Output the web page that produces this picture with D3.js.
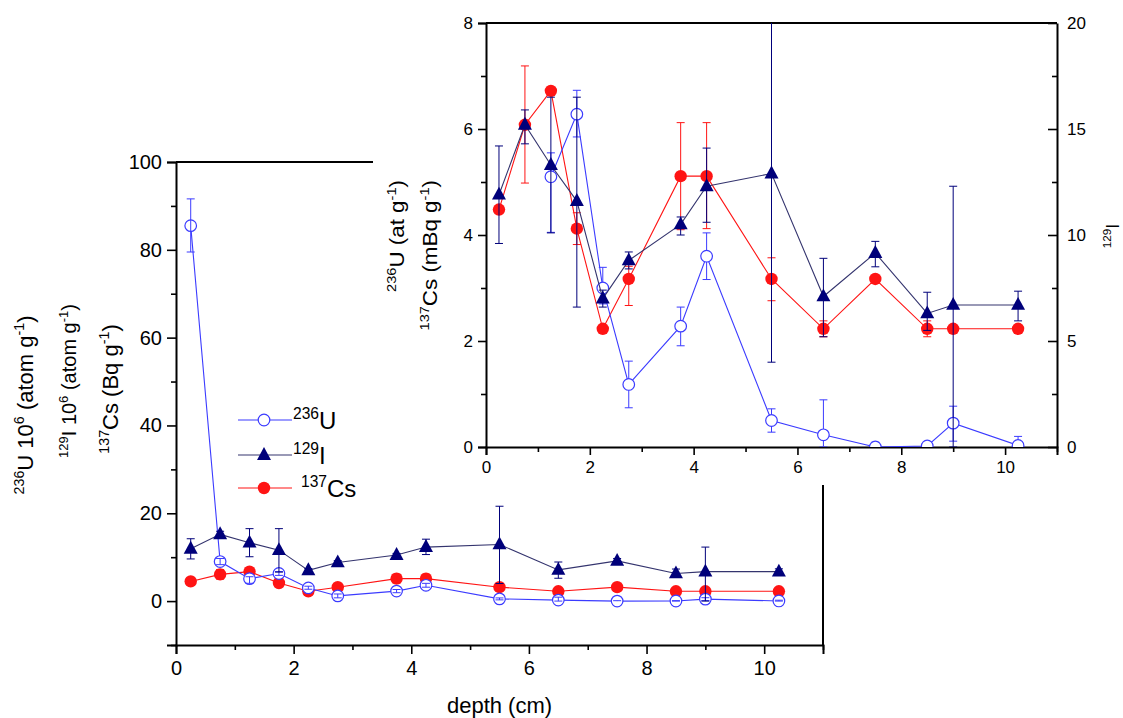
<!DOCTYPE html>
<html><head><meta charset="utf-8">
<script src="https://cdn.jsdelivr.net/npm/d3@7"></script>
<style>
html,body{margin:0;padding:0;background:#fff;}
svg{display:block;font-family:"Liberation Sans",Arial,sans-serif;}
</style></head>
<body>
<svg id="chart" width="1123" height="718"></svg>
<script>
// ---------------- data ----------------
const depth   = [0.25, 0.75, 1.25, 1.75, 2.25, 2.75, 3.75, 4.25, 5.5, 6.5, 7.5, 8.5, 9.0, 10.25];
const u236    = [85.5, 9.0, 5.1, 6.28, 3.0, 1.18, 2.28, 3.6, 0.5, 0.23, 0.0, 0.02, 0.45, 0.03];
const u236Lo  = [79.5, 8.3, 4.05, 5.85, 2.7, 0.74, 1.91, 3.16, 0.28, 0.0, 0.0, 0.0, 0.11, 0.0];
const u236Hi  = [91.6, 9.7, 5.55, 6.73, 3.39, 1.62, 2.64, 4.04, 0.72, 0.89, 0.09, 0.1, 0.77, 0.2];
const i129    = [11.9, 15.2, 13.3, 11.6, 7.0, 8.8, 10.5, 12.3, 12.9, 7.1, 9.15, 6.3, 6.7, 6.7];
const i129Lo  = [9.6, 14.3, 10.1, 6.6, 6.6, 8.4, 10.0, 10.6, 4.0, 5.2, 8.5, 5.5, 0.0, 5.95];
const i129Hi  = [14.2, 15.9, 16.5, 16.5, 7.4, 9.2, 10.85, 14.1, 21.6, 8.9, 9.7, 7.3, 12.3, 7.35];
const cs137   = [4.48, 6.08, 6.72, 4.12, 2.23, 3.17, 5.11, 5.11, 3.17, 2.23, 3.17, 2.23, 2.23, 2.23];
const cs137Lo = [4.48, 4.98, 6.72, 3.82, 2.23, 2.67, 4.1, 4.12, 2.76, 2.08, 3.17, 2.08, 2.23, 2.23];
const cs137Hi = [4.48, 7.19, 6.72, 4.42, 2.23, 3.41, 6.12, 6.12, 3.57, 2.38, 3.17, 2.38, 2.23, 2.23];

const mainXTicks = [0, 2, 4, 6, 8, 10];
const mainXMinor = [1, 3, 5, 7, 9, 11];
const mainYTicks = [0, 20, 40, 60, 80, 100];
const mainYMinor = [-10, 10, 30, 50, 70, 90];
const insetYTicks = [0, 2, 4, 6, 8];
const insetYMinor = [1, 3, 5, 7];
const insetY2Ticks = [0, 5, 10, 15, 20];
const insetY2Minor = [2.5, 7.5, 12.5, 17.5];
const insetUMax = 8; // inset only shows 236U values within its range

// ---------------- styling ----------------
const C_U = "#3b3bff", C_I = "#00007a", C_Iline = "#34346e", C_CS = "#ff1414";

const svg = d3.select("#chart");

const mx = d3.scaleLinear().domain([0, 11]).range([176, 823]);
const my = d3.scaleLinear().domain([-10, 100]).range([645, 162]);
const ix = d3.scaleLinear().domain([0, 11]).range([486, 1057]);
const iy = d3.scaleLinear().domain([0, 8]).range([447, 23]);
const iy2 = d3.scaleLinear().domain([0, 20]).range([447, 23]);

function rich(textSel, parts, fs) {
  let shifted = false;
  parts.forEach(p => {
    const t = textSel.append("tspan").text(p.t);
    if (p.sup) {
      t.attr("font-size", fs * 0.65);
      t.attr("dy", shifted ? 0 : -0.42 * fs);
      shifted = true;
    } else {
      t.attr("font-size", fs);
      t.attr("dy", shifted ? 0.42 * fs : 0);
      shifted = false;
    }
  });
  return textSel;
}

function styleAxis(g, fs) {
  g.select(".domain").attr("stroke", "#000").attr("stroke-width", 2);
  g.selectAll(".tick line").attr("stroke", "#000").attr("stroke-width", 1.6);
  g.selectAll(".tick text").attr("font-size", fs).attr("fill", "#000")
    .attr("font-family", "'Liberation Sans',Arial,sans-serif");
}

function triPath(size) {
  const h = size * 0.92, w = size;
  return `M0,${-h*0.62}L${w/2},${h*0.38}L${-w/2},${h*0.38}Z`;
}

function drawSeries(g, xs, ys, xv, yv, lo, hi, color, lineColor, marker, errOnTop, filterFn) {
  const idx = d3.range(xv.length).filter(filterFn || (() => true));
  const line = d3.line().x(i => xs(xv[i])).y(i => ys(yv[i]));
  const errG = () => {
    const eg = g.append("g");
    idx.forEach(i => {
      if (hi[i] - lo[i] <= 0) return;
      const x = xs(xv[i]);
      eg.append("line").attr("x1", x).attr("x2", x).attr("y1", ys(lo[i])).attr("y2", ys(hi[i]))
        .attr("stroke", color).attr("stroke-width", 1);
      [lo[i], hi[i]].forEach(v => {
        if (v === yv[i]) return;
        eg.append("line").attr("x1", x - 4).attr("x2", x + 4).attr("y1", ys(v)).attr("y2", ys(v))
          .attr("stroke", color).attr("stroke-width", 1);
      });
    });
  };
  if (!errOnTop) errG();
  g.append("path").datum(idx).attr("d", line).attr("fill", "none")
    .attr("stroke", lineColor).attr("stroke-width", 1.1);
  const mg = g.append("g");
  idx.forEach(i => {
    const x = xs(xv[i]), y = ys(yv[i]);
    if (marker === "circleOpen") {
      mg.append("circle").attr("cx", x).attr("cy", y).attr("r", 5.8)
        .attr("fill", "#fff").attr("stroke", color).attr("stroke-width", 1.2);
    } else if (marker === "circle") {
      mg.append("circle").attr("cx", x).attr("cy", y).attr("r", 6.2).attr("fill", color);
    } else {
      mg.append("path").attr("d", triPath(14)).attr("transform", `translate(${x},${y})`).attr("fill", color);
    }
  });
  if (errOnTop) errG();
}

// ================= MAIN PLOT =================
const main = svg.append("g");

main.append("line").attr("x1", mx(11)).attr("x2", mx(11)).attr("y1", my(-10)).attr("y2", 485)
  .attr("stroke", "#000").attr("stroke-width", 2);
main.append("line").attr("x1", mx(0)).attr("x2", 373).attr("y1", my(100)).attr("y2", my(100))
  .attr("stroke", "#000").attr("stroke-width", 2);

const mxAxis = main.append("g").attr("transform", `translate(0,${my(-10)})`)
  .call(d3.axisBottom(mx).tickValues(mainXTicks).tickSize(9).tickPadding(7).tickFormat(d3.format("d")));
styleAxis(mxAxis, 20);
const mxMinor = main.append("g").attr("transform", `translate(0,${my(-10)})`)
  .call(d3.axisBottom(mx).tickValues(mainXMinor).tickSize(5).tickFormat(""));
mxMinor.select(".domain").remove();
mxMinor.selectAll(".tick line").attr("stroke", "#000").attr("stroke-width", 1.6);

const myAxis = main.append("g").attr("transform", `translate(${mx(0)},0)`)
  .call(d3.axisLeft(my).tickValues(mainYTicks).tickSize(9).tickPadding(5).tickFormat(d3.format("d")));
styleAxis(myAxis, 20);
const myMinor = main.append("g").attr("transform", `translate(${mx(0)},0)`)
  .call(d3.axisLeft(my).tickValues(mainYMinor).tickSize(5).tickFormat(""));
myMinor.select(".domain").remove();
myMinor.selectAll(".tick line").attr("stroke", "#000").attr("stroke-width", 1.6);

drawSeries(main, mx, my, depth, cs137, cs137Lo, cs137Hi, C_CS, C_CS, "circle", true);
drawSeries(main, mx, my, depth, u236, u236Lo, u236Hi, C_U, C_U, "circleOpen", true);
drawSeries(main, mx, my, depth, i129, i129Lo, i129Hi, C_I, C_Iline, "tri", true);

const mlabels = [
  {x: 33, y: 405, fs: 22, parts: [{t:"236",sup:true},{t:"U 10"},{t:"6",sup:true},{t:" (atom g"},{t:"-1",sup:true},{t:")"}]},
  {x: 76, y: 381, fs: 20, parts: [{t:"129",sup:true},{t:"I 10"},{t:"6",sup:true},{t:" (atom g"},{t:"-1",sup:true},{t:")"}]},
  {x: 118, y: 389, fs: 22, parts: [{t:"137",sup:true},{t:"Cs (Bq g"},{t:"-1",sup:true},{t:")"}]}
];
mlabels.forEach(l => {
  const t = main.append("text").attr("transform", `translate(${l.x},${l.y}) rotate(-90)`)
    .attr("text-anchor", "middle").attr("fill", "#000");
  rich(t, l.parts, l.fs);
});
main.append("text").attr("x", mx(5.5)).attr("y", 713).attr("text-anchor", "middle")
  .attr("font-size", 22).attr("fill", "#000").text("depth (cm)");

const legend = [
  {y: 420, color: C_U, lc: C_U, marker: "circleOpen", parts: [{t:"236",sup:true},{t:"U"}], tx: 293},
  {y: 455, color: C_I, lc: C_Iline, marker: "tri", parts: [{t:"129",sup:true},{t:"I"}], tx: 293},
  {y: 488, color: C_CS, lc: C_CS, marker: "circle", parts: [{t:"137",sup:true},{t:"Cs"}], tx: 301}
];
legend.forEach(l => {
  const g = main.append("g");
  g.append("line").attr("x1", 238).attr("x2", 292).attr("y1", l.y).attr("y2", l.y)
    .attr("stroke", l.lc).attr("stroke-width", 1.1);
  if (l.marker === "circleOpen") g.append("circle").attr("cx", 264).attr("cy", l.y).attr("r", 5.8)
    .attr("fill", "#fff").attr("stroke", l.color).attr("stroke-width", 1.2);
  else if (l.marker === "circle") g.append("circle").attr("cx", 264).attr("cy", l.y).attr("r", 6.2).attr("fill", l.color);
  else g.append("path").attr("d", triPath(14)).attr("transform", `translate(264,${l.y})`).attr("fill", l.color);
  const t = g.append("text").attr("x", l.tx).attr("y", l.y + 9).attr("fill", "#000");
  rich(t, l.parts, 24);
});

// ================= INSET =================
const inset = svg.append("g");
inset.append("rect").attr("x", 374).attr("y", 0).attr("width", 749).attr("height", 484).attr("fill", "#fff");

svg.append("defs").append("clipPath").attr("id", "insetClip")
  .append("rect").attr("x", ix(0)).attr("y", iy(8)).attr("width", ix(11) - ix(0)).attr("height", iy(0) - iy(8));

inset.append("line").attr("x1", ix(0)).attr("x2", ix(11)).attr("y1", iy(8)).attr("y2", iy(8))
  .attr("stroke", "#000").attr("stroke-width", 2);

const ixAxis = inset.append("g").attr("transform", `translate(0,${iy(0)})`)
  .call(d3.axisBottom(ix).tickValues(mainXTicks).tickSize(8).tickPadding(6).tickFormat(d3.format("d")));
styleAxis(ixAxis, 17);
const ixMinor = inset.append("g").attr("transform", `translate(0,${iy(0)})`)
  .call(d3.axisBottom(ix).tickValues(mainXMinor).tickSize(5).tickFormat(""));
ixMinor.select(".domain").remove();
ixMinor.selectAll(".tick line").attr("stroke", "#000").attr("stroke-width", 1.6);

const iyAxis = inset.append("g").attr("transform", `translate(${ix(0)},0)`)
  .call(d3.axisLeft(iy).tickValues(insetYTicks).tickSize(8).tickPadding(5).tickFormat(d3.format("d")));
styleAxis(iyAxis, 17);
const iyMinor = inset.append("g").attr("transform", `translate(${ix(0)},0)`)
  .call(d3.axisLeft(iy).tickValues(insetYMinor).tickSize(5).tickFormat(""));
iyMinor.select(".domain").remove();
iyMinor.selectAll(".tick line").attr("stroke", "#000").attr("stroke-width", 1.6);

const iy2Axis = inset.append("g").attr("transform", `translate(${ix(11)},0)`)
  .call(d3.axisRight(iy2).tickValues(insetY2Ticks).tickSizeInner(-9).tickSizeOuter(0).tickPadding(10).tickFormat(d3.format("d")));
styleAxis(iy2Axis, 17);
const iy2Minor = inset.append("g").attr("transform", `translate(${ix(11)},0)`)
  .call(d3.axisRight(iy2).tickValues(insetY2Minor).tickSizeInner(-5).tickSizeOuter(0).tickFormat(""));
iy2Minor.select(".domain").remove();
iy2Minor.selectAll(".tick line").attr("stroke", "#000").attr("stroke-width", 1.6);

const dataG = inset.append("g").attr("clip-path", "url(#insetClip)");
drawSeries(dataG, ix, iy, depth, cs137, cs137Lo, cs137Hi, C_CS, C_CS, "circle", false);
drawSeries(dataG, ix, iy, depth, u236, u236Lo, u236Hi, C_U, C_U, "circleOpen", false, i => u236[i] <= insetUMax);
drawSeries(dataG, ix, iy2, depth, i129, i129Lo, i129Hi, C_I, C_Iline, "tri", false);

const il1 = inset.append("text").attr("transform", `translate(404,180) rotate(-90) scale(1.12,1)`)
  .attr("text-anchor", "end").attr("fill", "#000");
rich(il1, [{t:"236",sup:true},{t:"U (at g"},{t:"-1",sup:true},{t:")"}], 20);
const il2 = inset.append("text").attr("transform", `translate(437,180) rotate(-90) scale(1.12,1)`)
  .attr("text-anchor", "end").attr("fill", "#000");
rich(il2, [{t:"137",sup:true},{t:"Cs (mBq g"},{t:"-1",sup:true},{t:")"}], 20);
const il3 = inset.append("text").attr("transform", `translate(1119,236) rotate(-90)`)
  .attr("text-anchor", "middle").attr("fill", "#000");
rich(il3, [{t:"129",sup:true},{t:"I"}], 18);
</script>
</body></html>
